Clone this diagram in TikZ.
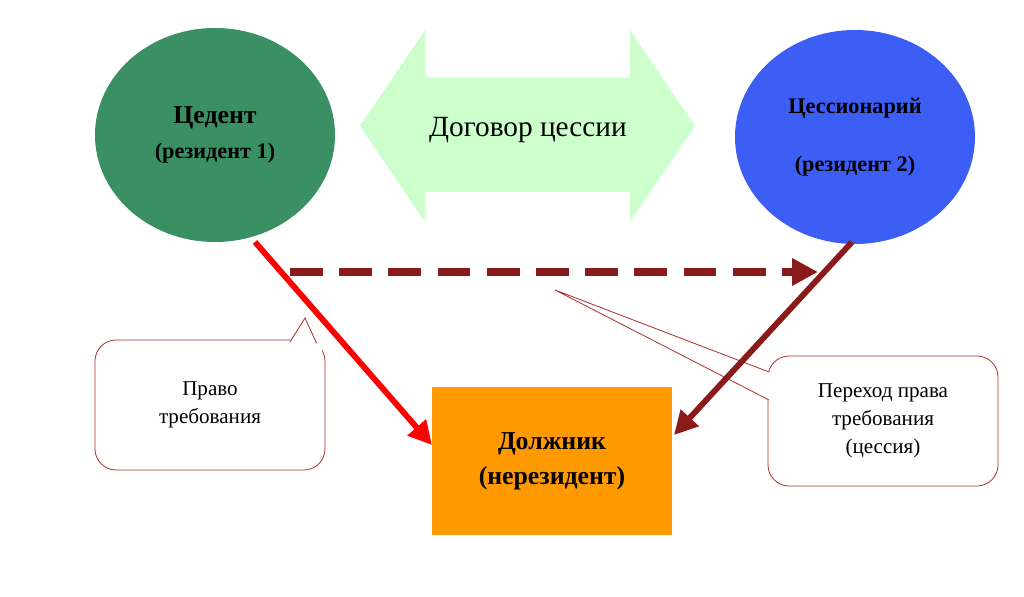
\documentclass[tikz,border=0pt]{standalone}
\usepackage{fontspec}
\setmainfont{Liberation Serif}
\usetikzlibrary{arrows.meta}
\definecolor{cedgreen}{HTML}{3A8F63}
\definecolor{cesblue}{HTML}{3D5EF5}
\definecolor{dogovor}{HTML}{CCFFCC}
\definecolor{dolzh}{HTML}{FF9900}
\definecolor{darkred}{HTML}{8B1A1A}
\definecolor{calloutred}{HTML}{B03030}
\tikzset{
  party/.style={ellipse, inner sep=0pt, minimum width=240*0.03cm, minimum height=214*0.03cm, align=center, font=\fontsize{22}{28}\selectfont\bfseries},
  note/.style={draw=calloutred, line width=0.7pt, fill=white, rounded corners=18pt, minimum width=230*0.03cm, minimum height=130*0.03cm, align=center, font=\fontsize{18}{24}\selectfont},
}
\usetikzlibrary{shapes.geometric}
\begin{document}
\begin{tikzpicture}[x=0.03cm,y=-0.03cm]
  \useasboundingbox (0,0) rectangle (1024,597);
  % circles
  \node[party, fill=cedgreen] (cedent) at (215,135) {Цедент\\[2pt]{\fontsize{19}{24}\selectfont(резидент 1)}};
  \node[party, fill=cesblue, font=\fontsize{19}{24}\selectfont\bfseries] (cess) at (855,137) {Цессионарий\\[26pt](резидент 2)};
  % double arrow
  \fill[dogovor] (360,126) -- (425,30) -- (425,78) -- (630,78) -- (630,30) -- (695,126)
     -- (630,222) -- (630,192) -- (425,192) -- (425,222) -- cycle;
  \node[font=\fontsize{25}{30}\selectfont] (dog) at (528,130) {Договор цессии};
  % debtor
  \node[fill=dolzh, minimum width=240*0.03cm, minimum height=147*0.03cm, align=center, font=\fontsize{22}{30}\selectfont\bfseries] (debtor) at (552,461) {Должник\\(нерезидент)};
  % callouts
  \node[note] (pravo) at (210,405) {Право\\требования};
  \coordinate (p1) at (305,318);
  \filldraw[draw=calloutred, line width=0.7pt, fill=white] (290,342) -- (p1) -- (322,355);
  \fill[white] (288,343.5) -- (322,343.5) -- (322,358) -- cycle;
  \node[note] (perehod) at (883,421) {Переход права\\требования\\(цессия)};
  \coordinate (p2) at (555,290);
  \filldraw[draw=calloutred, line width=0.7pt, fill=white] (769,372) -- (p2) -- (769,400);
  \fill[white] (770.5,370) rectangle (772,402);
  % arrows
  \coordinate (c1) at (255,242);
  \coordinate (c2) at (852,242);
  \coordinate (d1) at (432,445);
  \coordinate (d2) at (674,435);
  \draw[red, line width=5pt, -{Triangle[length=20pt,width=20pt]}] (c1) -- (d1);
  \draw[darkred, line width=5pt, -{Triangle[length=20pt,width=20pt]}] (c2) -- (d2);
  \coordinate (s) at (290,272);
  \coordinate (e) at (818,272);
  \draw[darkred, line width=6pt, dash pattern=on 28pt off 14pt, -{Triangle[length=22pt,width=22pt]}] (s) -- (e);
\end{tikzpicture}
\end{document}
